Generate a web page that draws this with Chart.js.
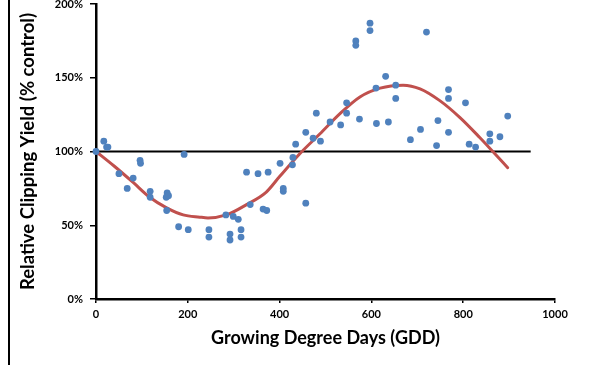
<!DOCTYPE html>
<html>
<head>
<meta charset="utf-8">
<script src="https://cdn.jsdelivr.net/npm/chart.js@4/dist/chart.umd.min.js"></script>
<style>
  html, body { margin:0; padding:0; background:#fff; }
  #wrap { width:595px; height:365px; position:relative; }
</style>
</head>
<body>
<div id="wrap"><canvas id="chart"></canvas></div>
<script>
// observed clipping yield vs GDD
const gddPoints = [
  0, 17, 23, 26, 50, 68, 81, 96, 97, 118, 118, 155, 153, 158, 154, 180, 201, 192,
  246, 246, 283, 292, 292, 299, 310, 316, 316, 328, 336, 353, 375, 364, 372,
  401, 408, 408, 429, 428, 435, 457, 457, 473, 480, 489, 510, 533, 546, 546,
  566, 566, 574, 597, 597, 610, 611, 631, 637, 653, 653, 685, 707, 720,
  742, 745, 768, 768, 768, 805, 813, 827, 858, 858, 880, 897
];
const yieldPoints = [
  100, 107, 103, 103, 85, 75, 82, 94, 92, 73, 69, 72, 69, 70, 60, 49, 47, 98,
  47, 42, 57, 44, 40, 56, 54, 47, 42, 86, 64, 85, 86, 61, 60,
  92, 75, 73, 96, 91, 105, 65, 113, 109, 126, 107, 120, 118, 133, 126,
  175, 172, 122, 187, 182, 143, 119, 151, 120, 145, 136, 108, 115, 181,
  104, 121, 142, 136, 113, 133, 105, 103, 112, 107, 110, 124
];

// trend curve
const trendGdd = [0, 40, 81, 117, 153, 190, 226, 244, 284, 328, 371, 400, 444, 488, 531, 575, 619, 669, 706, 749, 793, 836, 866, 897];
const trendYield = [100, 90, 79, 69, 62, 57, 55.5, 55, 57, 64, 72.5, 83, 98.5, 112, 125.5, 137, 143, 145, 142.5, 134.5, 123, 109.5, 99.5, 89];

// 100% control line
const controlGdd = [0, 947];
const controlYield = [100, 100];

const xTicks = [0, 200, 400, 600, 800, 1000];
const yTicks = [0, 50, 100, 150, 200];

const toXY = (xs, ys) => xs.map((x, i) => ({ x, y: ys[i] }));

const tickFont = { family: "Lato", size: 11, weight: "bold" };

const frameLine = {
  id: "frameLine",
  afterDraw(c){
    const ctx = c.ctx;
    ctx.save();
    ctx.strokeStyle = "#000";
    ctx.lineWidth = 2;
    ctx.beginPath();
    ctx.moveTo(9, 0);
    ctx.lineTo(9, 365);
    ctx.stroke();
    ctx.restore();
  }
};

new Chart(document.getElementById("chart"), {
  type: "scatter",
  data: {
    datasets: [
      {
        label: "Observed",
        data: toXY(gddPoints, yieldPoints),
        backgroundColor: "#4F81BD",
        borderColor: "#4F81BD",
        pointRadius: 3.4,
        pointBorderWidth: 0,
        showLine: false,
        clip: false
      },
      {
        label: "Trend",
        data: toXY(trendGdd, trendYield),
        borderColor: "#C0504D",
        borderWidth: 3,
        pointRadius: 0,
        showLine: true,
        tension: 0.4,
        cubicInterpolationMode: "monotone",
        borderCapStyle: "round",
        clip: false
      },
      {
        label: "Control",
        data: toXY(controlGdd, controlYield),
        borderColor: "#000",
        borderWidth: 2,
        pointRadius: 0,
        showLine: true
      }
    ]
  },
  options: {
    responsive: true,
    maintainAspectRatio: false,
    animation: false,
    layout: { padding: { left: 0, top: 3, right: 40, bottom: 0 } },
    plugins: { legend: { display: false }, tooltip: { enabled: false } },
    scales: {
      x: {
        type: "linear",
        min: 0, max: 1000,
        afterBuildTicks: s => { s.ticks = xTicks.map(v => ({ value: v })); },
        afterFit: s => { s.height = 66; s.paddingLeft = 0; s.paddingRight = 0; },
        grid: { drawOnChartArea: false, color: "#000", lineWidth: 1.5, tickLength: 4 },
        border: { color: "#000", width: 2.5 },
        ticks: { color: "#000", font: tickFont, padding: 5, maxRotation: 0, callback: v => String(v) },
        title: { display: true, text: "Growing Degree Days (GDD)", color: "#000",
          font: { family: "Lato", size: 18, weight: "bold" }, padding: { top: 0, bottom: 16 } }
      },
      y: {
        type: "linear",
        min: 0, max: 200,
        afterBuildTicks: s => { s.ticks = yTicks.map(v => ({ value: v })); },
        afterFit: s => { s.width = 96; s.paddingTop = 0; s.paddingBottom = 0; },
        grid: { drawOnChartArea: false, color: "#000", lineWidth: 1.5, tickLength: 6 },
        border: { color: "#000", width: 2.5 },
        ticks: { color: "#000", font: tickFont, padding: 7, callback: v => v + "%" },
        title: { display: true, text: "Relative Clipping Yield (% control)", color: "#000",
          font: { family: "Lato", size: 18.5, weight: "bold" }, padding: { top: 17, bottom: 0 } }
      }
    }
  },
  plugins: [frameLine]
});
</script>
</body>
</html>
